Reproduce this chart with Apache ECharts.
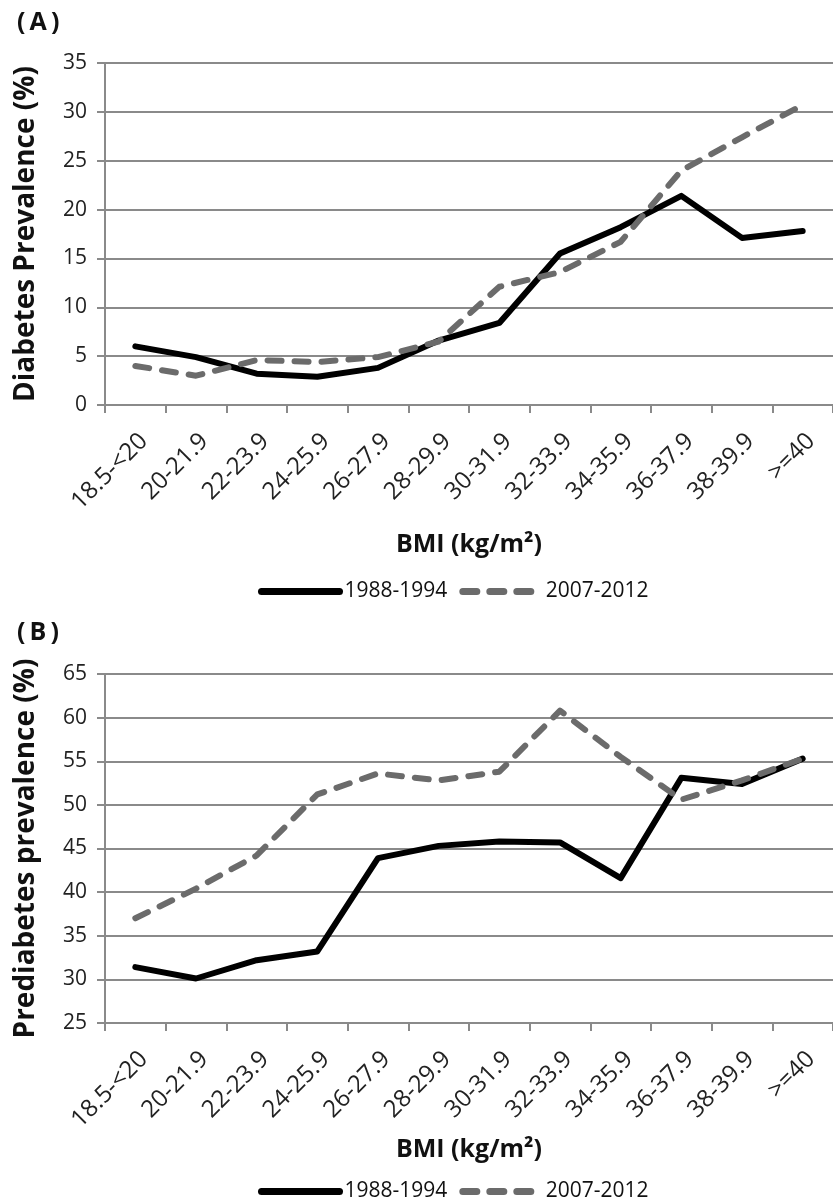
<!DOCTYPE html>
<html>
<head>
<meta charset="utf-8">
<script src="https://cdn.jsdelivr.net/npm/echarts@6/dist/echarts.min.js"></script>
<style>
html,body{margin:0;padding:0;background:#fff;}
#c{width:833px;height:1202px;}
</style>
</head>
<body>
<div id="c"></div>
<script>
const categories = ['18.5-<20','20-21.9','22-23.9','24-25.9','26-27.9','28-29.9','30-31.9','32-33.9','34-35.9','36-37.9','38-39.9','>=40'];
const seriesNames = ['1988-1994','2007-2012'];
const diabetes1988 = [6.0,4.9,3.2,2.9,3.8,6.6,8.4,15.5,18.2,21.4,17.1,17.8];
const diabetes2007 = [4.0,3.0,4.6,4.4,4.9,6.5,12.1,13.6,16.7,24.0,27.4,30.7];
const prediabetes1988 = [31.4,30.1,32.2,33.2,43.9,45.3,45.8,45.7,41.6,53.1,52.4,55.3];
const prediabetes2007 = [37.0,40.4,44.2,51.2,53.6,52.8,53.8,60.8,55.5,50.6,52.8,55.3];
const panelLabels = ['(\u2009A\u2009)','(\u2009B\u2009)'];
const yTitles = ['Diabetes Prevalence (%)','Prediabetes prevalence (%)'];
const xTitle = 'BMI (kg/m\u00B2)';

const FONT = 'Open Sans';
const gridColor = '#8a8a8a';
const solidStyle = {color:'#000', width:6, type:'solid', cap:'round', join:'round'};
const dashStyle = {color:'#6b6b6b', width:6, type:[14,13], cap:'round', join:'round'};

function xAxis(gridIndex, gap){
  return {
    type:'category', gridIndex, data:categories, boundaryGap:true,
    axisLine:{show:true, lineStyle:{color:gridColor, width:2}},
    axisTick:{show:true, interval:0, length:8, lineStyle:{color:gridColor, width:2}},
    axisLabel:{interval:0, rotate:45, margin:24, verticalAlign:'top', fontFamily:FONT, fontSize:24, color:'#222'},
    name:xTitle, nameLocation:'middle', nameGap:gap,
    nameTextStyle:{fontFamily:FONT, fontSize:25, fontWeight:'bold', color:'#111'}
  };
}
function yAxis(gridIndex, min, max, title){
  return {
    type:'value', gridIndex, min, max, interval:5,
    axisLine:{show:true, lineStyle:{color:gridColor, width:2}},
    axisTick:{show:true, length:8, lineStyle:{color:gridColor, width:2}},
    splitLine:{show:true, lineStyle:{color:gridColor, width:2}},
    axisLabel:{margin:18, fontFamily:FONT, fontSize:21, color:'#222'},
    name:title, nameLocation:'middle', nameGap:65,
    nameTextStyle:{fontFamily:FONT, fontSize:28, fontWeight:'bold', color:'#111'}
  };
}
function legend(top){
  return {
    left:258, top:top, padding:0, itemWidth:78, itemHeight:2, itemGap:12,
    itemStyle:{opacity:0},
    textStyle:{fontFamily:FONT, fontSize:21, color:'#111'},
    data:[
      {name:seriesNames[0], lineStyle:{color:'#000', width:7, type:'solid', cap:'round'}},
      {name:seriesNames[1], lineStyle:{color:'#6b6b6b', width:7, type:[14,13], cap:'round'}}
    ]
  };
}

const chart = echarts.init(document.getElementById('c'), null, {renderer:'canvas'});
chart.setOption({
  backgroundColor:'#fff',
  animation:false,
  grid:[
    {left:105, top:63, width:735, height:342},
    {left:105, top:674, width:735, height:349}
  ],
  xAxis:[xAxis(0,127), xAxis(1,114)],
  yAxis:[yAxis(0,0,35,yTitles[0]), yAxis(1,25,65,yTitles[1])],
  legend:[legend(581), legend(1181)],
  graphic:[
    {type:'text', left:17, top:10, style:{text:panelLabels[0], font:'bold 25px "Open Sans"', fill:'#111'}},
    {type:'text', left:17, top:620, style:{text:panelLabels[1], font:'bold 25px "Open Sans"', fill:'#111'}}
  ],
  series:[
    {name:seriesNames[0], type:'line', xAxisIndex:0, yAxisIndex:0, data:diabetes1988, symbol:'none', lineStyle:solidStyle, itemStyle:{color:'#000'}, z:3},
    {name:seriesNames[1], type:'line', xAxisIndex:0, yAxisIndex:0, data:diabetes2007, symbol:'none', lineStyle:dashStyle, itemStyle:{color:'#6b6b6b'}, z:4},
    {name:seriesNames[0], type:'line', xAxisIndex:1, yAxisIndex:1, data:prediabetes1988, symbol:'none', lineStyle:solidStyle, itemStyle:{color:'#000'}, z:3},
    {name:seriesNames[1], type:'line', xAxisIndex:1, yAxisIndex:1, data:prediabetes2007, symbol:'none', lineStyle:dashStyle, itemStyle:{color:'#6b6b6b'}, z:4}
  ]
});
</script>
</body>
</html>
